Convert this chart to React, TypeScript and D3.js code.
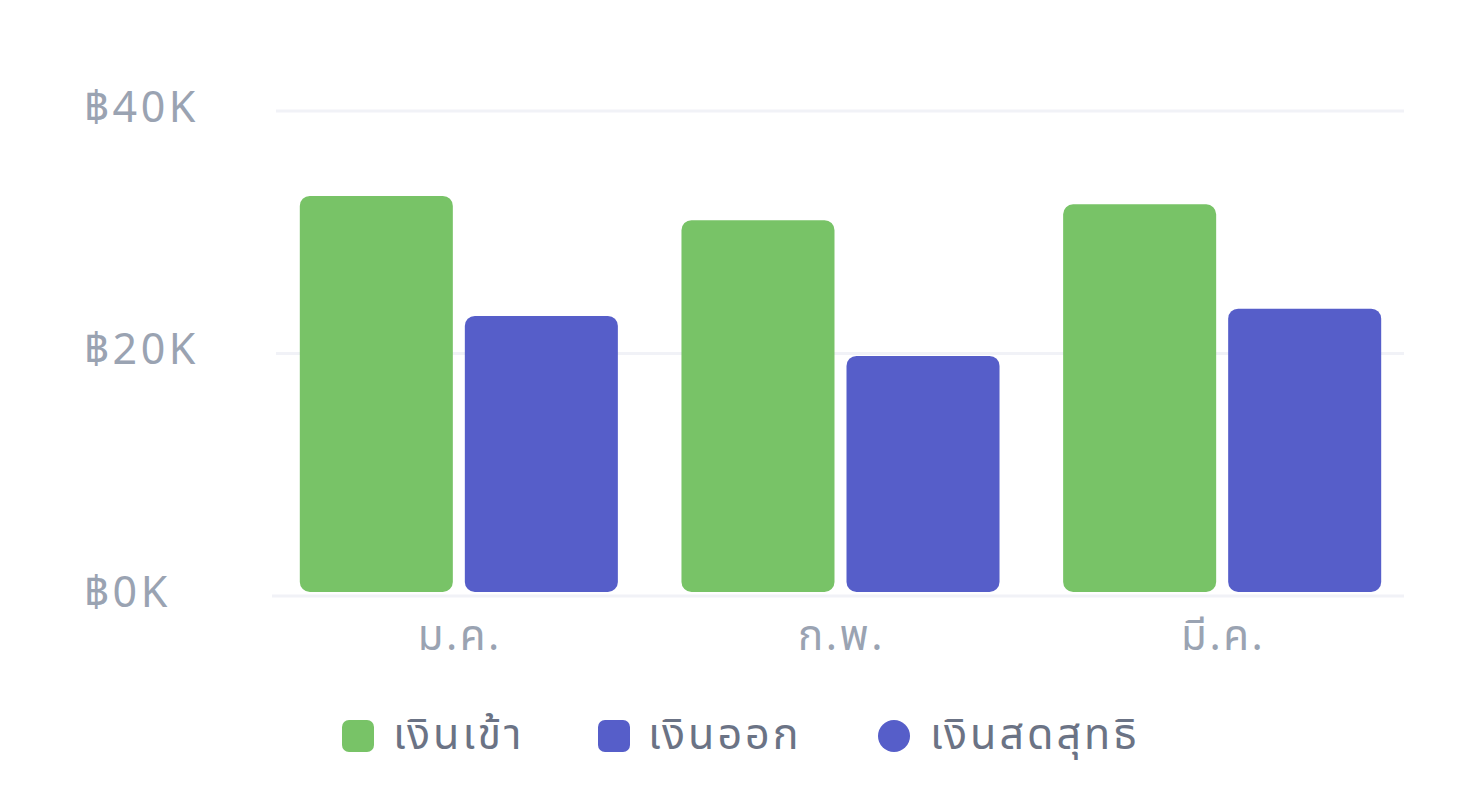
import React from "react";
import * as d3 from "d3";

const months = ["ม.ค.", "ก.พ.", "มี.ค."];
const seriesNames = ["เงินเข้า", "เงินออก"];
const cashIn = [33000, 31000, 32300];
const cashOut = [23100, 19800, 23700];
const yTicks = [0, 20000, 40000];
const legendLabels = ["เงินเข้า", "เงินออก", "เงินสดสุทธิ"];
const colors = ["#78C367", "#565EC9", "#565EC9"];

const W = 1484;
const H = 808;
const FONT = "'Noto Sans Thai', 'Noto Sans', 'DejaVu Sans', sans-serif";

function roundedRect(x: number, y: number, w: number, h: number, r: number) {
  const rr = Math.min(r, w / 2, h / 2);
  const p = d3.path();
  p.moveTo(x + rr, y);
  p.lineTo(x + w - rr, y);
  p.arcTo(x + w, y, x + w, y + rr, rr);
  p.lineTo(x + w, y + h - rr);
  p.arcTo(x + w, y + h, x + w - rr, y + h, rr);
  p.lineTo(x + rr, y + h);
  p.arcTo(x, y + h, x, y + h - rr, rr);
  p.lineTo(x, y + rr);
  p.arcTo(x, y, x + rr, y, rr);
  p.closePath();
  return p.toString();
}

export default function App() {
  const y = d3.scaleLinear().domain([0, 40000]).range([596, 111]);
  const x0 = d3
    .scaleBand<string>()
    .domain(months)
    .range([268, 1413])
    .paddingInner(1 / 6)
    .paddingOuter(1 / 12);
  const x1 = d3
    .scaleBand<string>()
    .domain(seriesNames)
    .range([0, x0.bandwidth()])
    .paddingInner(12 / 165);
  const values = [cashIn, cashOut];
  const fmt = (v: number) => `฿${v / 1000}K`;
  const legendX = [342, 598, 878];
  const legendTextX = [393, 648, 930];

  return (
    <div style={{ position: "absolute", left: 0, top: 0 }}>
      <svg width={W} height={H} style={{ display: "block", background: "#fff" }}>
        {yTicks.map((t) => (
          <g key={t}>
            <line
              x1={t === 0 ? 272 : 276}
              x2={1404}
              y1={y(t)}
              y2={y(t)}
              stroke="#F1F2F7"
              strokeWidth={3}
            />
            <text
              x={84}
              y={y(t) - 3}
              dominantBaseline="central"
              fontFamily={FONT}
              fontSize={43}
              letterSpacing={3.5}
              fill="#9AA3B2"
            >
              {fmt(t)}
            </text>
          </g>
        ))}
        {months.map((m, i) => (
          <g key={m} transform={`translate(${x0(m)},0)`}>
            {seriesNames.map((s, j) => {
              const v = values[j][i];
              const top = y(v);
              const bottom = y(0) - 4;
              return (
                <path
                  key={s}
                  d={roundedRect(x1(s)!, top, x1.bandwidth(), bottom - top, 10)}
                  fill={colors[j]}
                />
              );
            })}
            <text
              x={x0.bandwidth() / 2 + 1}
              y={650}
              textAnchor="middle"
              fontFamily={FONT}
              fontSize={42}
              letterSpacing={2.5}
              fill="#9AA3B2"
            >
              {m}
            </text>
          </g>
        ))}
        {legendLabels.map((l, i) => (
          <g key={l}>
            {i < 2 ? (
              <rect x={legendX[i]} y={720} width={32} height={32} rx={7} fill={colors[i]} />
            ) : (
              <circle cx={legendX[i] + 16} cy={736} r={16} fill={colors[i]} />
            )}
            <text
              x={legendTextX[i]}
              y={749}
              fontFamily={FONT}
              fontSize={43}
              letterSpacing={3}
              fill="#6B7385"
            >
              {l}
            </text>
          </g>
        ))}
      </svg>
    </div>
  );
}
